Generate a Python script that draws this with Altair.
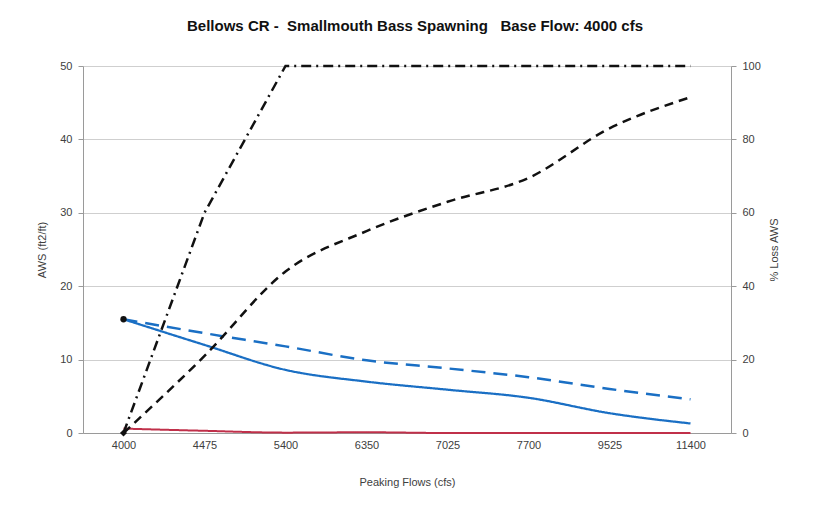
import altair as alt
import pandas as pd

flows = ["4000", "4475", "5400", "6350", "7025", "7700", "9525", "11400"]

aws_solid = [15.5, 12.0, 8.6, 7.0, 5.9, 4.8, 2.7, 1.3]
aws_dashed = [15.5, 13.6, 11.8, 9.9, 8.8, 7.6, 6.0, 4.6]
aws_red = [0.6, 0.3, 0.05, 0.1, 0.0, 0.0, 0.0, 0.0]
loss_dashdot = [0, 60, 100, 100, 100, 100, 100, 100]
loss_dashed = [0, 21, 44, 55, 63, 69.5, 83, 91.5]

aws_names = ["red", "solid", "dashed"]
loss_names = ["dashdot", "ldashed"]

rows = []
for name, vals in zip(aws_names, [aws_red, aws_solid, aws_dashed]):
    for i, (f, v) in enumerate(zip(flows, vals)):
        rows.append({"flow": f, "value": v, "series": name, "i": i})
aws_df = pd.DataFrame(rows)

rows = []
for name, vals in zip(loss_names, [loss_dashdot, loss_dashed]):
    for i, (f, v) in enumerate(zip(flows, vals)):
        rows.append({"flow": f, "value": v, "series": name, "i": i})
loss_df = pd.DataFrame(rows)

FONT = "Liberation Sans"
LAB = "#404040"
x = alt.X("flow:O", sort=flows, title="Peaking Flows (cfs)",
          axis=alt.Axis(labelAngle=0, labelFontSize=11, labelColor=LAB,
                        titleFontSize=11, titleFontWeight="normal", titleColor=LAB,
                        titlePadding=26, domainColor="#9a9a9a", ticks=False, labelPadding=6,
                        grid=False))

left_axis = alt.Axis(values=[0, 10, 20, 30, 40, 50], labelFontSize=11,
                     labelColor=LAB, titleFontSize=11, titleFontWeight="normal",
                     titleColor=LAB, domainColor="#9a9a9a", tickColor="#9a9a9a",
                     gridColor="#cfcfcf", grid=True, titlePadding=12, labelPadding=6)
right_axis = alt.Axis(values=[0, 20, 40, 60, 80, 100], orient="right", labelFontSize=11,
                      labelColor=LAB, titleFontSize=11, titleFontWeight="normal",
                      titleColor=LAB, domainColor="#9a9a9a", tickColor="#9a9a9a",
                      grid=False, titleAngle=270, titlePadding=19, labelPadding=6)

left_scale = alt.Scale(domain=[0, 50])
right_scale = alt.Scale(domain=[0, 100])

left_lines = alt.Chart(aws_df).mark_line(interpolate="monotone").encode(
    x=x,
    y=alt.Y("value:Q", scale=left_scale, title="AWS (ft2/ft)", axis=left_axis),
    color=alt.Color("series:N", scale=alt.Scale(domain=aws_names, range=["#c0304a", "#1a6fc4", "#1a6fc4"]), legend=None),
    strokeDash=alt.StrokeDash("series:N", scale=alt.Scale(domain=aws_names, range=[[1, 0], [1, 0], [14, 8]]), legend=None),
    strokeWidth=alt.StrokeWidth("series:N", scale=alt.Scale(domain=aws_names, range=[2, 2.5, 2.5]), legend=None),
    order="i:Q",
)
left_dot = alt.Chart(aws_df).transform_filter(
    (alt.datum.series == "solid") & (alt.datum.i == 0)).mark_circle(
    color="#111111", size=40, opacity=1).encode(
    x=x, y=alt.Y("value:Q", scale=left_scale, axis=None))

right_dashed = alt.Chart(loss_df).transform_filter(alt.datum.series == "ldashed").mark_line(
    interpolate="monotone", color="#111111", strokeWidth=2.5, strokeDash=[9, 6]).encode(
    x=x,
    y=alt.Y("value:Q", scale=right_scale, title="% Loss AWS", axis=right_axis),
    order="i:Q",
)
right_dashdot = alt.Chart(loss_df).transform_filter(alt.datum.series == "dashdot").mark_line(
    color="#111111", strokeWidth=2.5, strokeDash=[10, 5, 2, 5]).encode(
    x=x,
    y=alt.Y("value:Q", scale=right_scale, axis=None),
    order="i:Q",
)
right_dot = alt.Chart(loss_df).transform_filter(
    (alt.datum.series == "dashdot") & (alt.datum.i == 0)).mark_point(
    color="#111111", size=50, filled=True, shape="diamond", opacity=1).encode(
    x=x, y=alt.Y("value:Q", scale=right_scale, axis=None))

chart = alt.layer(left_lines, left_dot, right_dashed, right_dashdot, right_dot).resolve_scale(
    y="independent", color="independent", strokeDash="independent", strokeWidth="independent"
).properties(
    width=648, height=367,
    autosize=alt.AutoSizeParams(type="none"),
    padding={"left": 75, "top": 58, "right": 70, "bottom": 55},
    title=alt.Title("Bellows CR -\u00a0\u00a0Smallmouth Bass Spawning\u00a0\u00a0\u00a0Base Flow: 4000 cfs",
                    fontSize=15, font=FONT, fontWeight="bold", color="#111111",
                    anchor="middle", offset=26, dx=8),
).configure(font=FONT).configure_view(stroke=None).configure_axis(labelFont=FONT, titleFont=FONT)

chart.save("out.html", embed_options={"renderer": "svg", "actions": False})
